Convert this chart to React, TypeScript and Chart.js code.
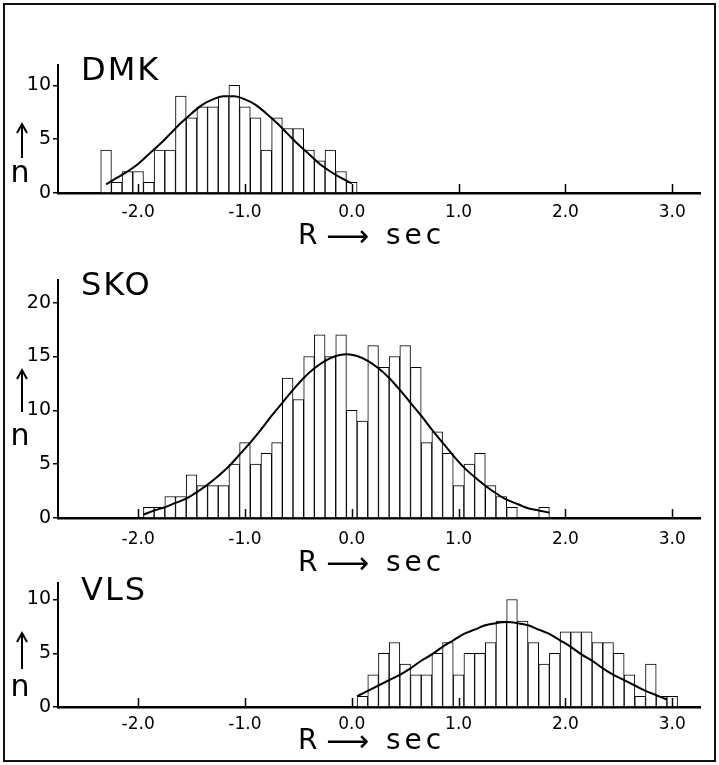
import React, { useEffect, useRef } from 'react';
import { Chart, registerables } from 'chart.js';

Chart.register(...registerables);

const FONT = "'DejaVu Sans', sans-serif";

// shared x axis ticks
const X_TICKS = [-2, -1, 0, 1, 2, 3];
const X_TICK_LABELS = ['-2.0', '-1.0', '0.0', '1.0', '2.0', '3.0'];

// DMK histogram (bin centres, sec) and counts
const DMK_BINS = [-2.3, -2.2, -2.1, -2.0, -1.9, -1.8, -1.7, -1.6, -1.5, -1.4, -1.3, -1.2, -1.1, -1.0, -0.9, -0.8, -0.7, -0.6, -0.5, -0.4, -0.3, -0.2, -0.1, 0.0];
const DMK_COUNTS = [4, 1, 2, 2, 1, 4, 4, 9, 7, 8, 8, 9, 10, 8, 7, 4, 7, 6, 6, 4, 3, 4, 2, 1];
const DMK_CURVE_X = [-2.3, -2.2, -2.1, -2.0, -1.9, -1.8, -1.7, -1.6, -1.5, -1.4, -1.3, -1.2, -1.1, -1.0, -0.9, -0.8, -0.7, -0.6, -0.5, -0.4, -0.3, -0.2, -0.1, 0.0];
const DMK_CURVE_Y = [0.8, 1.4, 2.0, 2.7, 3.6, 4.5, 5.5, 6.5, 7.4, 8.2, 8.7, 9.0, 9.0, 8.7, 8.2, 7.4, 6.5, 5.5, 4.5, 3.6, 2.7, 2.0, 1.4, 0.9];
const DMK_Y_TICKS = [0, 5, 10];

// SKO histogram
const SKO_BINS = [-1.9, -1.8, -1.7, -1.6, -1.5, -1.4, -1.3, -1.2, -1.1, -1.0, -0.9, -0.8, -0.7, -0.6, -0.5, -0.4, -0.3, -0.2, -0.1, 0.0, 0.1, 0.2, 0.3, 0.4, 0.5, 0.6, 0.7, 0.8, 0.9, 1.0, 1.1, 1.2, 1.3, 1.4, 1.5, 1.6, 1.7, 1.8];
const SKO_COUNTS = [1, 1, 2, 2, 4, 3, 3, 3, 5, 7, 5, 6, 7, 13, 11, 15, 17, 15, 17, 10, 9, 16, 14, 15, 16, 14, 7, 8, 6, 3, 5, 6, 3, 2, 1, 0, 0, 1];
const SKO_CURVE_X = [-1.95, -1.85, -1.75, -1.65, -1.55, -1.45, -1.35, -1.25, -1.15, -1.05, -0.95, -0.85, -0.75, -0.65, -0.55, -0.45, -0.35, -0.25, -0.15, -0.05, 0.05, 0.15, 0.25, 0.35, 0.45, 0.55, 0.65, 0.75, 0.85, 0.95, 1.05, 1.15, 1.25, 1.35, 1.45, 1.55, 1.65, 1.75, 1.85];
const SKO_CURVE_Y = [0.3, 0.7, 1.0, 1.4, 1.8, 2.4, 3.1, 3.9, 4.8, 5.9, 7.0, 8.2, 9.5, 10.7, 11.9, 13.0, 13.9, 14.6, 15.05, 15.2, 15.05, 14.6, 13.9, 13.0, 11.9, 10.7, 9.5, 8.2, 7.0, 5.8, 4.7, 3.8, 3.0, 2.3, 1.7, 1.3, 0.9, 0.7, 0.5];
const SKO_Y_TICKS = [0, 5, 10, 15, 20];

// VLS histogram
const VLS_BINS = [0.1, 0.2, 0.3, 0.4, 0.5, 0.6, 0.7, 0.8, 0.9, 1.0, 1.1, 1.2, 1.3, 1.4, 1.5, 1.6, 1.7, 1.8, 1.9, 2.0, 2.1, 2.2, 2.3, 2.4, 2.5, 2.6, 2.7, 2.8, 2.9, 3.0];
const VLS_COUNTS = [1, 3, 5, 6, 4, 3, 3, 5, 6, 3, 5, 5, 6, 8, 10, 8, 6, 4, 5, 7, 7, 7, 6, 6, 5, 3, 1, 4, 1, 1];
const VLS_CURVE_X = [0.05, 0.15, 0.25, 0.35, 0.45, 0.55, 0.65, 0.75, 0.85, 0.95, 1.05, 1.15, 1.25, 1.35, 1.45, 1.55, 1.65, 1.75, 1.85, 1.95, 2.05, 2.15, 2.25, 2.35, 2.45, 2.55, 2.65, 2.75, 2.85, 2.95];
const VLS_CURVE_Y = [1.0, 1.5, 2.0, 2.5, 3.0, 3.6, 4.3, 4.9, 5.6, 6.2, 6.8, 7.2, 7.6, 7.8, 7.9, 7.8, 7.6, 7.2, 6.8, 6.2, 5.6, 4.9, 4.3, 3.6, 3.0, 2.5, 2.0, 1.5, 1.1, 0.7];
const VLS_Y_TICKS = [0, 5, 10];

type PanelCfg = {
  name: string;
  top: number;
  height: number;
  padTop: number;
  xHeight: number;
  yMax: number;
  yTicks: number[];
  bins: number[];
  counts: number[];
  curveX: number[];
  curveY: number[];
  titleY: number;
  arrowTop: number;
  arrowBottom: number;
  nY: number;
  xTickPad: number;
  xTitleY: number;
};

const PANELS: PanelCfg[] = [
  { name: 'DMK', top: 0, height: 250, padTop: 65, xHeight: 57, yMax: 11.9, yTicks: DMK_Y_TICKS, bins: DMK_BINS, counts: DMK_COUNTS, curveX: DMK_CURVE_X, curveY: DMK_CURVE_Y, titleY: 72, arrowTop: 124, arrowBottom: 158, nY: 174, xTickPad: 9, xTitleY: 237 },
  { name: 'SKO', top: 250, height: 330, padTop: 30, xHeight: 62, yMax: 22.1, yTicks: SKO_Y_TICKS, bins: SKO_BINS, counts: SKO_COUNTS, curveX: SKO_CURVE_X, curveY: SKO_CURVE_Y, titleY: 37, arrowTop: 120, arrowBottom: 162, nY: 187, xTickPad: 11, xTitleY: 314 },
  { name: 'VLS', top: 570, height: 195, padTop: 13, xHeight: 58, yMax: 11.5, yTicks: VLS_Y_TICKS, bins: VLS_BINS, counts: VLS_COUNTS, curveX: VLS_CURVE_X, curveY: VLS_CURVE_Y, titleY: 22, arrowTop: 63, arrowBottom: 99, nY: 118, xTickPad: 7, xTitleY: 172 },
];

const decorPlugin = {
  id: 'panelDecor',
  afterDatasetsDraw(chart: any) {
    const { ctx, chartArea, scales } = chart;
    const xs = scales.x;
    ctx.save();
    ctx.strokeStyle = '#000';
    ctx.lineWidth = 1.5;
    X_TICKS.forEach((v) => {
      const px = Math.round(xs.getPixelForValue(v)) + 0.5;
      ctx.beginPath();
      ctx.moveTo(px, chartArea.bottom);
      ctx.lineTo(px, chartArea.bottom - 9);
      ctx.stroke();
    });
    ctx.restore();
  },
  afterDraw(chart: any, _args: any, opts: any) {
    const { ctx } = chart;
    ctx.save();
    ctx.fillStyle = '#000';
    ctx.strokeStyle = '#000';
    // panel title
    ctx.font = `32px ${FONT}`;
    ctx.textAlign = 'left';
    ctx.textBaseline = 'middle';
    (ctx as any).letterSpacing = '2px';
    ctx.fillText(opts.name, 81, opts.titleY);
    (ctx as any).letterSpacing = '0px';
    // arrow up + n
    ctx.lineWidth = 2;
    ctx.beginPath();
    ctx.moveTo(22, opts.arrowBottom);
    ctx.lineTo(22, opts.arrowTop);
    ctx.moveTo(17, opts.arrowTop + 9);
    ctx.lineTo(22, opts.arrowTop);
    ctx.lineTo(27, opts.arrowTop + 9);
    ctx.stroke();
    ctx.font = `30px ${FONT}`;
    ctx.textAlign = 'center';
    ctx.fillText('n', 20, opts.nY);
    // x title: R -> sec
    ctx.font = `28px ${FONT}`;
    ctx.textAlign = 'left';
    ctx.fillText('R', 298, opts.xTitleY);
    ctx.font = `30px ${FONT}`;
    ctx.fillText('⟶', 326, opts.xTitleY + 1);
    ctx.font = `28px ${FONT}`;
    (ctx as any).letterSpacing = '4px';
    ctx.fillText('sec', 386, opts.xTitleY);
    (ctx as any).letterSpacing = '0px';
    ctx.restore();
  },
};

function Panel({ cfg }: { cfg: PanelCfg }) {
  const ref = useRef<HTMLCanvasElement>(null);
  useEffect(() => {
    const canvas = ref.current as HTMLCanvasElement;
    const chart = new Chart(canvas, {
      type: 'bar',
      data: {
        datasets: [
          {
            type: 'line',
            data: cfg.curveX.map((x, i) => ({ x, y: cfg.curveY[i] })),
            borderColor: '#000',
            borderWidth: 2,
            pointRadius: 0,
            cubicInterpolationMode: 'monotone',
            fill: false,
            order: 0,
          } as any,
          {
            type: 'bar',
            data: cfg.bins.map((x, i) => ({ x, y: cfg.counts[i] })),
            backgroundColor: '#fff',
            borderColor: '#000',
            borderWidth: 1,
            borderSkipped: 'bottom',
            barPercentage: 1,
            categoryPercentage: 1,
            order: 1,
          } as any,
        ],
      },
      options: {
        responsive: false,
        animation: false,
        events: [],
        layout: { padding: { top: cfg.padTop, right: 19, left: 0, bottom: 0 } },
        plugins: {
          legend: { display: false },
          tooltip: { enabled: false },
          panelDecor: cfg,
        } as any,
        scales: {
          x: {
            type: 'linear',
            min: -2.75,
            max: 3.26,
            offset: false,
            grid: { display: false, drawTicks: false },
            border: { display: true, color: '#000', width: 2.5 },
            afterBuildTicks: (s: any) => {
              s.ticks = X_TICKS.map((v) => ({ value: v }));
            },
            afterFit: (s: any) => {
              s.height = cfg.xHeight;
            },
            ticks: {
              autoSkip: false,
              maxRotation: 0,
              padding: cfg.xTickPad,
              color: '#000',
              font: { family: FONT, size: 17 },
              callback: (_v: any, i: number) => X_TICK_LABELS[i],
            },
          },
          y: {
            type: 'linear',
            min: 0,
            max: cfg.yMax,
            grid: { display: true, drawOnChartArea: false, drawTicks: true, tickLength: 5, color: '#000', lineWidth: 1.5 },
            border: { display: true, color: '#000', width: 2 },
            afterBuildTicks: (s: any) => {
              s.ticks = cfg.yTicks.map((v) => ({ value: v }));
            },
            afterFit: (s: any) => {
              s.width = 58;
            },
            ticks: {
              padding: 2,
              color: '#000',
              font: { family: FONT, size: 19 },
              callback: (v: any) => String(v),
            },
          },
        } as any,
      },
      plugins: [decorPlugin as any],
    });
    return () => chart.destroy();
  }, [cfg]);
  return (
    <canvas
      ref={ref}
      width={719}
      height={cfg.height}
      style={{ position: 'absolute', left: 0, top: cfg.top, width: 719, height: cfg.height }}
    />
  );
}

export default function App() {
  useEffect(() => {
    document.body.style.margin = '0';
  }, []);
  return (
    <div style={{ position: 'relative', width: 719, height: 765, background: '#fff', overflow: 'hidden' }}>
      {PANELS.map((p) => (
        <Panel key={p.name} cfg={p} />
      ))}
      <div
        style={{
          position: 'absolute',
          left: 3,
          top: 3,
          width: 713,
          height: 759,
          border: '2.5px solid #111',
          boxSizing: 'border-box',
          pointerEvents: 'none',
        }}
      />
    </div>
  );
}
